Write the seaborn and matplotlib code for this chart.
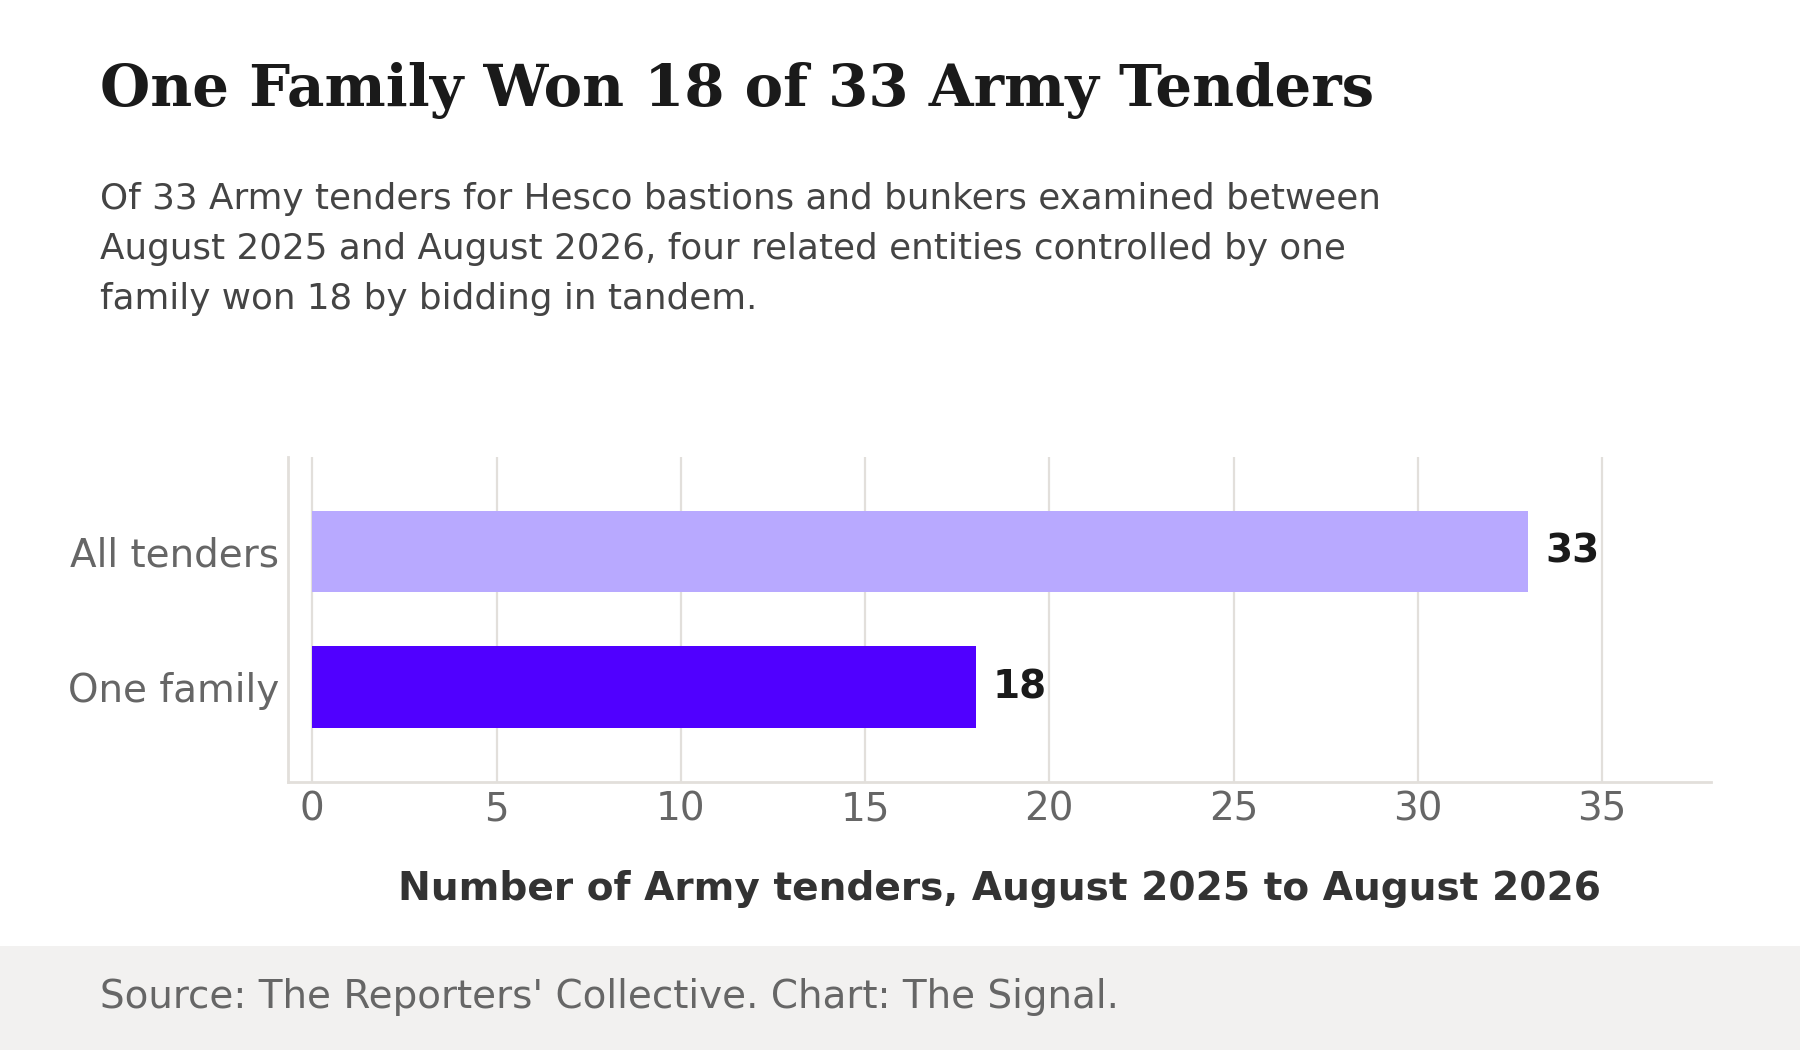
import matplotlib
matplotlib.use("Agg")
import matplotlib.pyplot as plt
from matplotlib.patches import Rectangle
import seaborn as sns
import pandas as pd

# ---- data ----
categories = ["All tenders", "One family"]
values = [33, 18]
bar_colors = ["#B8A9FF", "#5000FF"]
x_ticks = [0, 5, 10, 15, 20, 25, 30, 35]

title = "One Family Won 18 of 33 Army Tenders"
subtitle_lines = [
    "Of 33 Army tenders for Hesco bastions and bunkers examined between",
    "August 2025 and August 2026, four related entities controlled by one",
    "family won 18 by bidding in tandem.",
]
x_label = "Number of Army tenders, August 2025 to August 2026"
source = "Source: The Reporters' Collective. Chart: The Signal."

sns.set_theme(style="white")
plt.rcParams["font.family"] = ["DejaVu Sans"]

df = pd.DataFrame({"category": categories, "value": values})

fig = plt.figure(figsize=(9, 5.25), dpi=200)
fig.patch.set_facecolor("white")

# footer band
fig.patches.append(Rectangle((0, 0), 1, 0.0993, transform=fig.transFigure,
                             facecolor="#F2F1F0", edgecolor="none", zorder=0))

ax = fig.add_axes([0.16, 0.2555, 0.9504 - 0.16, 0.5648 - 0.2555])
sns.barplot(data=df, x="value", y="category", hue="category",
            palette=bar_colors, orient="h", width=0.6, legend=False,
            saturation=1, linewidth=0, edgecolor="none", ax=ax, zorder=3)

ax.set_xlim(-0.66, 37.95)
ax.set_ylim(1.7, -0.7)
ax.set_xticks(x_ticks)
ax.set_ylabel("")

grid_c = "#E2DFDB"
ax.grid(axis="x", color=grid_c, linewidth=0.8, zorder=0)
ax.grid(axis="y", visible=False)
ax.set_axisbelow(True)
for s in ["top", "right"]:
    ax.spines[s].set_visible(False)
for s in ["left", "bottom"]:
    ax.spines[s].set_color(grid_c)
    ax.spines[s].set_linewidth(1.0)

ax.tick_params(axis="both", length=0, labelsize=14, labelcolor="#666666")
ax.tick_params(axis="y", pad=3.3)
ax.tick_params(axis="x", pad=3)

for cont in ax.containers:
    ax.bar_label(cont, padding=6, fontsize=14, fontweight="bold",
                 color="#1A1A1A")

ax.set_xlabel(x_label, fontsize=14.1, fontweight="bold", color="#333333")
ax.xaxis.label.set_va("baseline")
ax.xaxis.set_label_coords(0.5, -0.3643)

fig.text(0.0556, 0.899, title, family="DejaVu Serif", fontweight="bold",
         fontsize=20.8, color="#1A1A1A", va="baseline", ha="left")
for yb, line in zip([0.8010, 0.7533, 0.7057], subtitle_lines):
    fig.text(0.0556, yb, line, fontsize=12.9, color="#444444",
             va="baseline", ha="left")
fig.text(0.0553, 0.040, source, fontsize=14, color="#666666",
         va="baseline", ha="left")

fig.savefig("out.png", dpi=200)
